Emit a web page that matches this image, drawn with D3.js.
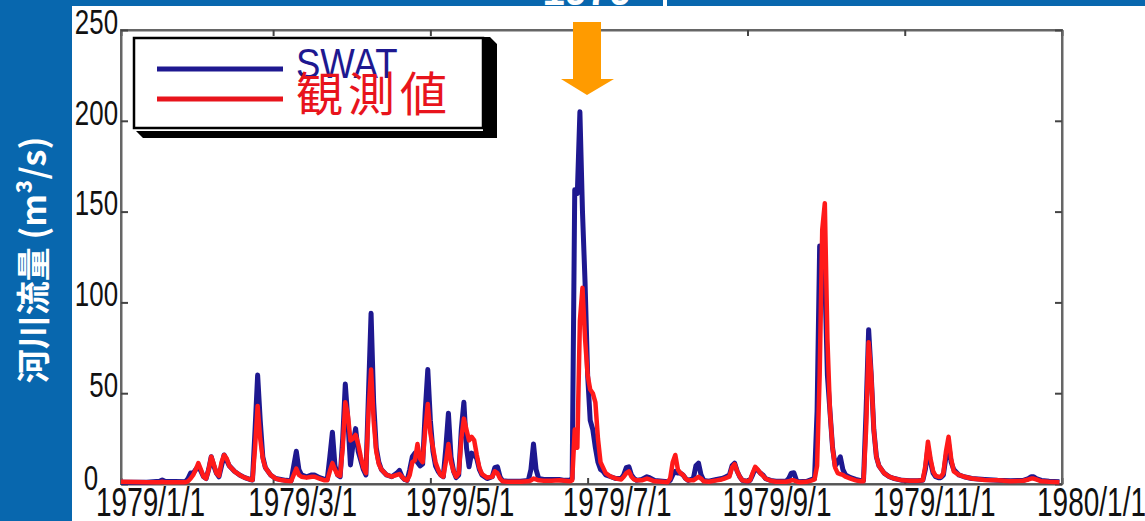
<!DOCTYPE html>
<html lang="ja">
<head>
<meta charset="UTF-8">
<title>河川流量 SWAT vs 観測値</title>
<script src="https://d3js.org/d3.v7.min.js"></script>
<style>
  body { margin: 0; background: #fff; }
  svg { display: block; }
</style>
</head>
<body>
<svg id="chart" width="1145" height="521"></svg>
<script>
// day offsets from 1979/1/1 and daily discharge (m3/s)
const days = [0,10,15,16,17,25,26,27,28,29,30,31,32,33,34,35,36,37,38,39,40,41,42,44,46,48,50,51,52,53,54,55,56,58,60,62,64,66,67,68,69,70,72,74,75,77,79,80,81,82,83,84,85,86,87,88,89,90,91,92,93,94,95,96,97,98,99,100,101,103,105,107,108,109,110,111,112,113,114,115,116,117,118,119,120,121,122,123,124,125,126,127,128,129,130,131,132,133,134,135,136,137,138,139,140,142,144,145,146,147,148,150,155,158,159,160,161,162,164,167,170,172,174,175,176,177,178,179,180,181,182,183,184,185,186,187,188,190,192,194,195,196,197,198,199,200,202,204,205,207,210,212,213,214,215,216,217,218,219,220,222,223,224,225,226,228,231,233,234,236,237,238,239,240,241,243,244,245,246,247,248,249,250,252,254,258,259,260,261,262,263,266,268,269,270,271,272,273,274,275,276,277,278,279,280,281,283,285,287,288,289,290,291,292,293,294,296,298,300,303,306,309,311,312,313,314,315,316,317,318,319,320,321,322,323,325,327,330,335,340,345,350,352,353,354,355,357,360,364];
const swat = [1,1,1.5,2.2,1.5,1.2,3,6,6,8,10,7,4,3,8,15,10,6,4,10,16,13,10,7,5,3.5,2.5,2.2,30,60,35,15,9,5,3,2.5,2,1.8,10,18,8,5,4,5,5,3.5,2.5,2.5,15,28.5,10,5,4,25,55,35,10.5,22,30.5,18,13,8,5,50,94,45,20,12,8,5,4,6,7.5,4,2.5,2,8,15,17,12,10,11,40,63,35,18,10,7,5,4,20,39,15,7,3.5,5,30,45,20,9.5,17,16,14,8,5,3,4,9,9.5,4,1.8,1.5,1.5,2,8,22,8,3,2.5,2.5,2.5,2,2,3,162,160,205,150,111,60,35,30,20,12,8,7,5,4,3,3,5,9,9.5,5,3,2,2.5,4,3.5,2,1.5,1.2,2,5,7,6,6,5,3,2,3,10,11.5,5,2,1.5,2.5,3,3.5,5,10,11.5,7,4,2,1.5,2,5,8.5,7.5,6,5,3,2,1.5,1.5,3,6,6.2,2,1.2,1.5,2.5,3,40,131,125,114,60,40,20,10,12,15,8,5,3.5,2.5,1.8,1.8,40,85,60,30,15,10,6,4,3,2,1.8,1.8,2,8,20,12,6,4,3.5,3.5,5,15,22,12,8,5,4,3,2.5,2,1.8,2,3,4,4,3,2,1.5,1.2];
const obs = [1.2,1,1,1.2,1,1,1.5,3,5,8,11.5,8,4,3,8,15,11,6,4.5,12,16,14,10,7,5,3.5,2.5,2.2,20,43,25,14,9,5,3,2.2,1.8,1.5,5,8.5,5,4,3.5,4,4,3,2,2,7,11.5,8,5,4.5,20,45,38,24,25,27,22,15,9,6,40,63,35,18,11,8,5,4,5,5.5,4,2.5,2,5,12,13,22,14,12,30,44,28,20,12,8,5,4,12,22,12,7,4,6,25,36,30,24,26,24,16,9,5.5,3.5,4,7,6,3,1.5,1.2,1.2,1.5,2,3,2.5,2,1.8,1.8,2,1.8,1.5,2,30,20,90,108,80,60,52,50,45,25,12,9,6,4,3,2.5,4,6,7,4,2.5,2,2,3,2.5,1.5,1.2,1,3,12,16,8,6,5,3,2,2,3,4,3,1.5,1.2,2,2.5,3,4,9,11,7,4,2,1.5,2,6,9.5,8,6,4.5,3,1.8,1.2,1.2,1.5,2,2,1.5,1,1.2,2,2.5,10,60,140,154.6,80,40,20,9,6,5.5,5,4,3,2,1.5,1.5,30,78,60,30,15,10,6,4,3,2,1.8,1.8,2,10,23.3,14,7,4.5,4,4,6,18,26,14,7,5,4,3,2.2,2,1.5,1.8,2.5,3,3,2.5,1.5,1.2,1];

const xTickLabels = ["1979/1/1","1979/3/1","1979/5/1","1979/7/1","1979/9/1","1979/11/1","1980/1/1"];
const xTickMonths = [0,2,4,6,8,10,12];
const yTicks = [0,50,100,150,200,250];

const svg = d3.select('#chart');
const plotL = 121, plotR = 1062, plotT = 30, plotB = 484;
const toDate = d => new Date(1979, 0, 1 + d);

const x = d3.scaleTime()
  .domain([new Date(1979,0,1), new Date(1980,0,1)])
  .range([plotL, plotR]);
const y = d3.scaleLinear().domain([0,250]).range([plotB, plotT]);

// side / top bands of the slide
svg.append('rect').attr('x',0).attr('y',0).attr('width',72).attr('height',521).attr('fill','#0867ae');
svg.append('rect').attr('x',72).attr('y',0).attr('width',1073).attr('height',6).attr('fill','#0867ae');
svg.append('text').attr('x',587).attr('y',5).attr('text-anchor','middle')
  .attr('font-family','Liberation Sans, Arial, sans-serif').attr('font-weight','bold')
  .attr('font-size',40).attr('fill','#fff').text('1979');
svg.append('rect').attr('x',663).attr('y',0).attr('width',4).attr('height',6).attr('fill','#fff');

svg.append('text')
  .attr('transform','translate(46,260) rotate(-90)')
  .attr('text-anchor','middle')
  .attr('font-family','"Noto Sans CJK JP", sans-serif')
  .attr('font-weight','bold').attr('font-size',34).attr('fill','#fff')
  .text('河川流量 (m³/s)');

// frame
svg.append('rect').attr('x',plotL).attr('y',plotT).attr('width',plotR-plotL).attr('height',plotB-plotT)
  .attr('fill','none').attr('stroke','#666').attr('stroke-width',2);

const tickDates = xTickMonths.map(m => new Date(1979, m, 1));

// bottom axis
const xAxis = svg.append('g').attr('transform',`translate(0,${plotB})`)
  .call(d3.axisBottom(x).tickValues(tickDates).tickSizeInner(-6).tickSizeOuter(0).tickPadding(32)
    .tickFormat((d,i) => xTickLabels[i]));
xAxis.select('.domain').attr('stroke','#555').attr('stroke-width',2);
xAxis.selectAll('.tick line').attr('stroke','#444').attr('stroke-width',2);
xAxis.selectAll('.tick text')
  .attr('font-family','Liberation Sans, Arial, sans-serif').attr('font-size',40).attr('fill','#111')
  .attr('transform','translate(29,0) scale(0.7,1)').attr('dy',0);

// top ticks
svg.append('g').attr('transform',`translate(0,${plotT})`)
  .call(d3.axisTop(x).tickValues(tickDates).tickSizeInner(-6).tickSizeOuter(0).tickFormat(''))
  .call(g => g.select('.domain').attr('stroke','#666').attr('stroke-width',2))
  .call(g => g.selectAll('.tick line').attr('stroke','#444').attr('stroke-width',2));

// left axis
const yAxis = svg.append('g').attr('transform',`translate(${plotL},0)`)
  .call(d3.axisLeft(y).tickValues(yTicks).tickSizeInner(-7).tickSizeOuter(0).tickPadding(4));
yAxis.select('.domain').attr('stroke','#666').attr('stroke-width',2);
yAxis.selectAll('.tick line').attr('stroke','#444').attr('stroke-width',2);
yAxis.selectAll('.tick text')
  .attr('font-family','Liberation Sans, Arial, sans-serif').attr('font-size',35).attr('fill','#111')
  .attr('transform','translate(0,-8) scale(0.74,1)').attr('x',-4);
yAxis.selectAll('.tick text').filter(d => d === 0)
  .attr('transform','translate(-20,-6) scale(0.74,1)');

// right ticks
svg.append('g').attr('transform',`translate(${plotR},0)`)
  .call(d3.axisRight(y).tickValues(yTicks).tickSizeInner(-7).tickSizeOuter(0).tickFormat(''))
  .call(g => g.select('.domain').attr('stroke','#666').attr('stroke-width',2))
  .call(g => g.selectAll('.tick line').attr('stroke','#444').attr('stroke-width',2));

// series
const line = d3.line()
  .x((v,i) => x(toDate(days[i])))
  .y(v => y(v));

svg.append('path').datum(swat)
  .attr('fill','none').attr('stroke','#1e1890').attr('stroke-width',5)
  .attr('stroke-linejoin','round').attr('d', line);
svg.append('path').datum(obs)
  .attr('fill','none').attr('stroke','#ff1a1a').attr('stroke-width',4.5)
  .attr('stroke-linejoin','round').attr('d', line);

// legend
const lg = svg.append('g');
lg.append('path').attr('d','M483,37 L490,37 L497,44 L497,138 L143,138 L136,131 L483,131 Z').attr('fill','#000');
lg.append('rect').attr('x',134).attr('y',38).attr('width',349).attr('height',90)
  .attr('fill','#fff').attr('stroke','#000').attr('stroke-width',2.5);
lg.append('line').attr('x1',157).attr('x2',283).attr('y1',69).attr('y2',69)
  .attr('stroke','#1e1890').attr('stroke-width',5);
lg.append('line').attr('x1',157).attr('x2',283).attr('y1',99).attr('y2',99)
  .attr('stroke','#e8141c').attr('stroke-width',5);
lg.append('text').attr('transform','translate(296,78) scale(0.85,1)')
  .attr('font-family','Liberation Sans, Arial, sans-serif').attr('font-size',43).attr('fill','#1e1890')
  .text('SWAT');
lg.append('text').attr('x',296).attr('y',111)
  .attr('font-family','"Noto Sans CJK JP", sans-serif').attr('font-size',47).attr('letter-spacing',5)
  .attr('fill','#e8141c').text('観測値');

// orange arrow
svg.append('path').attr('d','M573,22 L601,22 L601,79 L614,79 L587,95 L561,79 L573,79 Z')
  .attr('fill','#ff9b00');
</script>
</body>
</html>
